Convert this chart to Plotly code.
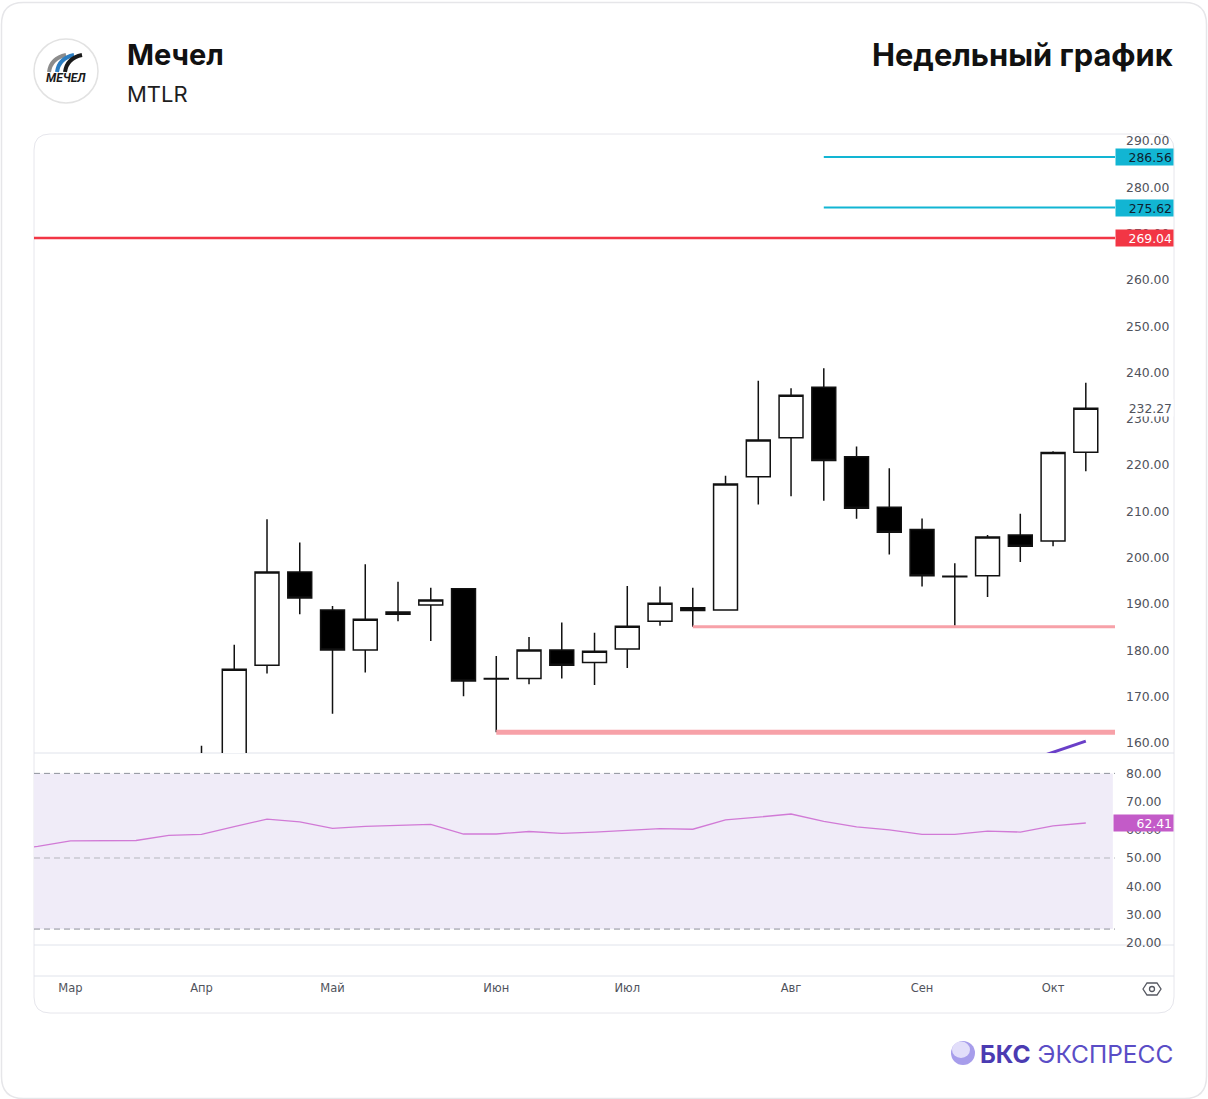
import plotly.graph_objects as go

W, H = 1208, 1099
FIG_H = 1105  # the capture comes out slightly squeezed vertically; compensate

# weekly bars (Monday of each week), 2023
weeks = ["2023-02-20", "2023-02-27", "2023-03-06", "2023-03-13", "2023-03-20", "2023-03-27",
         "2023-04-03", "2023-04-10", "2023-04-17", "2023-04-24", "2023-05-01", "2023-05-08",
         "2023-05-15", "2023-05-22", "2023-05-29", "2023-06-05", "2023-06-12", "2023-06-19",
         "2023-06-26", "2023-07-03", "2023-07-10", "2023-07-17", "2023-07-24", "2023-07-31",
         "2023-08-07", "2023-08-14", "2023-08-21", "2023-08-28", "2023-09-04", "2023-09-11",
         "2023-09-18", "2023-09-25", "2023-10-02", "2023-10-09"]
candle_weeks = weeks[6:]

opens = [152.0, 155.5, 176.8, 196.9, 188.7, 180.1, 187.8, 189.8, 193.3, 173.9, 173.9, 180.1, 177.4, 180.3,
         186.3, 189.2, 188.7, 217.5, 225.9, 236.8, 221.8, 210.9, 206.1, 196.0, 196.1, 204.9, 203.6, 222.8]
highs = [159.4, 181.2, 208.3, 203.3, 189.6, 198.6, 194.8, 193.5, 193.3, 178.8, 182.9, 186.0, 183.8, 193.9,
         193.8, 193.5, 217.7, 238.2, 236.6, 240.9, 224.0, 219.3, 208.5, 198.8, 204.9, 209.5, 223.0, 237.8]
lows = [146.5, 154.0, 175.0, 187.8, 166.3, 175.2, 186.3, 182.0, 170.1, 162.3, 172.7, 173.9, 172.5, 176.2,
        185.3, 185.1, 188.6, 211.5, 213.3, 212.3, 208.4, 200.7, 193.8, 185.3, 191.5, 199.1, 202.5, 218.7]
closes = [155.5, 175.9, 196.9, 191.3, 180.1, 186.7, 188.3, 190.9, 173.4, 173.8, 180.1, 176.8, 179.8, 185.2,
          190.2, 188.6, 215.9, 225.4, 235.1, 221.0, 210.7, 205.5, 196.1, 195.9, 204.5, 202.5, 222.7, 232.27]

rsi = [53.0, 54.1, 56.1, 56.1, 56.2, 58.0, 58.4, 61.1, 63.8, 62.8, 60.5, 61.2, 61.5, 61.9, 58.5, 58.5, 59.4,
       58.7, 59.2, 59.9, 60.4, 60.2, 63.5, 64.5, 65.6, 63.0, 61.0, 60.0, 58.4, 58.4, 59.5, 59.2, 61.4, 62.41]

# drawn levels: value, first week, colour, width
level_values = [286.56, 275.62, 269.04, 185.1, 162.3]
level_starts = ["2023-08-14", "2023-08-14", "2023-02-20", "2023-07-17", "2023-06-05"]
level_colors = ["#12B5D3", "#12B5D3", "#F23645", "#F7A1A8", "#F7A1A8"]
level_widths = [2, 2, 2.5, 3, 5]
trend_weeks = ["2023-09-25", "2023-10-09"]
trend_values = [155.6, 160.4]

month_ticks = ["2023-03-06", "2023-04-03", "2023-05-01", "2023-06-05", "2023-07-03", "2023-08-07",
               "2023-09-04", "2023-10-02"]
month_labels = ["Мар", "Апр", "Май", "Июн", "Июл", "Авг", "Сен", "Окт"]
price_ticks = list(range(160, 300, 10))
rsi_ticks = [20, 30, 40, 50, 60, 70, 80]
rsi_bands = [80, 50, 24.8]

x_range = ["2023-02-26 04:48", "2023-10-15 05:45"]
LAST_WEEK_END = "2023-10-16"


def px(x):
    return x / W


def py(y):
    return 1 - y / H


def rounded_rect(x0, y0, x1, y1, r):
    pts = [
        f"M{px(x0 + r)},{py(y0)}", f"L{px(x1 - r)},{py(y0)}", f"Q{px(x1)},{py(y0)} {px(x1)},{py(y0 + r)}",
        f"L{px(x1)},{py(y1 - r)}", f"Q{px(x1)},{py(y1)} {px(x1 - r)},{py(y1)}",
        f"L{px(x0 + r)},{py(y1)}", f"Q{px(x0)},{py(y1)} {px(x0)},{py(y1 - r)}",
        f"L{px(x0)},{py(y0 + r)}", f"Q{px(x0)},{py(y0)} {px(x0 + r)},{py(y0)}", "Z"]
    return " ".join(pts)


fig = go.Figure()

fig.add_trace(go.Candlestick(
    x=candle_weeks, open=opens, high=highs, low=lows, close=closes,
    increasing=dict(fillcolor="white", line=dict(color="#111111", width=1.5)),
    decreasing=dict(fillcolor="#000000", line=dict(color="#111111", width=1.5)),
    whiskerwidth=0, showlegend=False, hoverinfo="skip", xaxis="x", yaxis="y"))

for val, start, col, wd in zip(level_values, level_starts, level_colors, level_widths):
    fig.add_trace(go.Scatter(x=[start, LAST_WEEK_END], y=[val, val], mode="lines",
                             line=dict(color=col, width=wd), showlegend=False,
                             hoverinfo="skip", xaxis="x", yaxis="y"))

fig.add_trace(go.Scatter(x=trend_weeks, y=trend_values, mode="lines",
                         line=dict(color="#6A3FC8", width=3), showlegend=False,
                         hoverinfo="skip", xaxis="x", yaxis="y"))

fig.add_trace(go.Scatter(x=weeks, y=rsi, mode="lines", line=dict(color="#D17AD6", width=1.3),
                         showlegend=False, hoverinfo="skip", xaxis="x2", yaxis="y2"))

axis_font = dict(family="DejaVu Sans", size=12.4, color="#50535C")

fig.update_layout(
    width=W, height=FIG_H, autosize=False, margin=dict(l=0, r=0, t=0, b=0),
    paper_bgcolor="white", plot_bgcolor="rgba(0,0,0,0)",
    hovermode=False, boxgap=0.27, boxgroupgap=0,
    xaxis=dict(domain=[px(34), px(1115)], anchor="y", type="date", range=x_range,
               showgrid=False, zeroline=False, showticklabels=False, showline=False,
               rangeslider=dict(visible=False), fixedrange=True),
    yaxis=dict(domain=[py(752), py(133)], anchor="x", side="right", range=[157.84, 291.5],
               tickvals=price_ticks, ticktext=[f"{v:.2f}" for v in price_ticks],
               showgrid=False, zeroline=False, showline=False, ticks="",
               ticklabelstandoff=10, tickfont=axis_font),
    xaxis2=dict(domain=[px(34), px(1115)], anchor="y2", type="date", matches="x",
                showgrid=False, zeroline=False, showline=False, ticks="",
                tickvals=month_ticks, ticktext=month_labels, ticklabelstandoff=34,
                tickfont=dict(family="DejaVu Sans", size=11.5, color="#50535C")),
    yaxis2=dict(domain=[py(944), py(752)], anchor="x2", side="right", range=[19.15, 87.23],
                tickvals=rsi_ticks, ticktext=[f"{v:.2f}" for v in rsi_ticks],
                showgrid=False, zeroline=False, showline=False, ticks="",
                ticklabelstandoff=10, tickfont=axis_font),
)

shapes = []
# outer card and chart card
shapes.append(dict(type="path", xref="paper", yref="paper", path=rounded_rect(1.5, 1.5, 1206.5, 1097.5, 22),
                   line=dict(color="#E6E6E9", width=1.5), layer="below"))
shapes.append(dict(type="path", xref="paper", yref="paper", path=rounded_rect(34, 133, 1174, 1012, 16),
                   line=dict(color="#E6E6EC", width=1), layer="below"))
# panel separators
for yy in [752, 944, 975]:
    shapes.append(dict(type="line", xref="paper", yref="paper", x0=px(34), x1=px(1174), y0=py(yy), y1=py(yy),
                       line=dict(color="#E0E3EB", width=1), layer="below"))
# RSI band
shapes.append(dict(type="rect", xref="x2 domain", yref="y2", x0=0, x1=0.998, y0=rsi_bands[2], y1=rsi_bands[0],
                   fillcolor="#F0ECF8", line=dict(width=0), layer="below"))
for b, c in zip(rsi_bands, ["#8F929B", "#B5B7BE", "#8F929B"]):
    shapes.append(dict(type="line", xref="x2 domain", yref="y2", x0=0, x1=1, y0=b, y1=b,
                       line=dict(color=c, width=1, dash="6px,4px"), layer="below"))
# company logo
shapes.append(dict(type="circle", xref="paper", yref="paper", x0=px(34), x1=px(98), y0=py(38), y1=py(102),
                   line=dict(color="#E2E2E2", width=1.5), fillcolor="white"))
for (x0, col) in [(49, "#8C8C8C"), (57, "#2B7DC1"), (65, "#1A1A1A")]:
    p = f"M{px(x0)},{py(71)} Q{px(x0 + 2)},{py(57)} {px(x0 + 17)},{py(54)}"
    shapes.append(dict(type="path", xref="paper", yref="paper", path=p, line=dict(color=col, width=4)))
# eye icon
eye = (f"M{px(1143)},{py(988)} L{px(1147)},{py(982)} L{px(1157)},{py(982)} L{px(1161)},{py(988)} "
       f"L{px(1157)},{py(994)} L{px(1147)},{py(994)} Z")
shapes.append(dict(type="path", xref="paper", yref="paper", path=eye, line=dict(color="#555861", width=1.3)))
shapes.append(dict(type="circle", xref="paper", yref="paper", x0=px(1149.5), x1=px(1154.5), y0=py(985.5),
                   y1=py(990.5), line=dict(color="#555861", width=1.3)))
# BCS sphere
shapes.append(dict(type="circle", xref="paper", yref="paper", x0=px(951), x1=px(975), y0=py(1040), y1=py(1064),
                   fillcolor="#A79DEB", line=dict(width=0)))
shapes.append(dict(type="circle", xref="paper", yref="paper", x0=px(952), x1=px(970), y0=py(1040.5), y1=py(1057),
                   fillcolor="#E2DEFA", line=dict(width=0)))
fig.update_layout(shapes=shapes)

ann = []
ann.append(dict(text="<b>Мечел</b>", x=px(125), y=py(53), xref="paper", yref="paper", xanchor="left",
                yanchor="middle", showarrow=False, font=dict(family="Inter", size=29, color="#111111")))
ann.append(dict(text="MTLR", x=px(125), y=py(93), xref="paper", yref="paper", xanchor="left",
                yanchor="middle", showarrow=False, font=dict(family="Inter", size=22, color="#1E1E1E")))
ann.append(dict(text="<b>Недельный график</b>", x=px(1175), y=py(53), xref="paper", yref="paper",
                xanchor="right", yanchor="middle", showarrow=False,
                font=dict(family="Inter", size=30.8, color="#111111")))
ann.append(dict(text="<b><i>МЕЧЕЛ</i></b>", x=px(66), y=py(77), xref="paper", yref="paper",
                xanchor="center", yanchor="middle", showarrow=False,
                font=dict(family="Roboto", size=12, color="#1A1A1A")))
ann.append(dict(text="<b><span style='color:#4B3BB2'>БКС</span></b> ЭКСПРЕСС", x=px(1175), y=py(1053),
                xref="paper", yref="paper", xanchor="right", yanchor="middle", showarrow=False,
                font=dict(family="Inter", size=24.5, color="#5A4DC6")))

# price tags on the right axis
tag_font = dict(family="DejaVu Sans", size=12.4)
for val, bg, fg in [(286.56, "#12B5D3", "#0E2230"), (275.62, "#12B5D3", "#0E2230"),
                    (269.04, "#F23645", "white"), (232.27, "white", "#50535C")]:
    ann.append(dict(text=f"{val:.2f}", x=px(1115), y=val, xref="paper", yref="y", xanchor="left",
                    yanchor="middle", showarrow=False, bgcolor=bg, width=55, height=14, align="right",
                    borderpad=1, font=dict(color=fg, **tag_font)))
ann.append(dict(text=f"{rsi[-1]:.2f}", x=px(1113), y=rsi[-1], xref="paper", yref="y2", xanchor="left",
                yanchor="middle", showarrow=False, bgcolor="#C35BC8", width=57, height=14, align="right",
                borderpad=1, font=dict(color="white", **tag_font)))
fig.update_layout(annotations=ann)

# no page margin or scrollbars, so the figure fills the window exactly
page_fix = ("document.body.style.margin='0';"
            "document.body.style.overflow='hidden';"
            "document.documentElement.style.overflow='hidden';")
fig.write_html("out.html", config={"displayModeBar": False, "responsive": False}, post_script=page_fix)
